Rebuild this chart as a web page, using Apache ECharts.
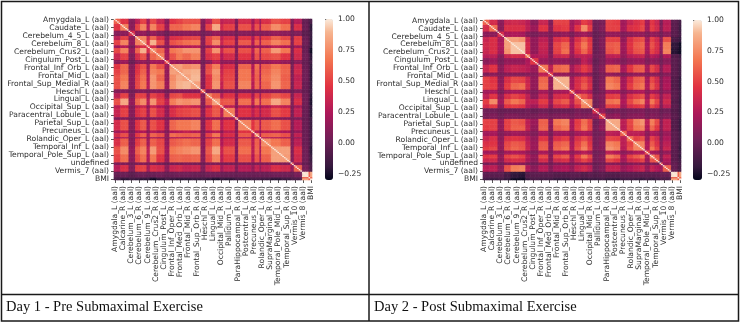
<!DOCTYPE html>
<html><head><meta charset="utf-8">
<script src="https://cdn.jsdelivr.net/npm/echarts@6/dist/echarts.min.js"></script>
<style>html,body{margin:0;padding:0;background:#fff}#c{width:740px;height:324px;filter:blur(0.5px)}</style>
</head><body><div id="c"></div>
<script>
const regions = ["Amygdala_L (aal)","Amygdala_R (aal)","Angular_L (aal)","Angular_R (aal)","Calcarine_L (aal)","Calcarine_R (aal)","Caudate_L (aal)","Caudate_R (aal)","Cerebelum_10_L (aal)","Cerebelum_10_R (aal)","Cerebelum_3_L (aal)","Cerebelum_3_R (aal)","Cerebelum_4_5_L (aal)","Cerebelum_4_5_R (aal)","Cerebelum_6_L (aal)","Cerebelum_6_R (aal)","Cerebelum_7b_L (aal)","Cerebelum_7b_R (aal)","Cerebelum_8_L (aal)","Cerebelum_8_R (aal)","Cerebelum_9_L (aal)","Cerebelum_9_R (aal)","Cerebelum_Crus1_L (aal)","Cerebelum_Crus1_R (aal)","Cerebelum_Crus2_L (aal)","Cerebelum_Crus2_R (aal)","Cingulum_Ant_L (aal)","Cingulum_Ant_R (aal)","Cingulum_Mid_L (aal)","Cingulum_Mid_R (aal)","Cingulum_Post_L (aal)","Cingulum_Post_R (aal)","Cuneus_L (aal)","Cuneus_R (aal)","Frontal_Inf_Oper_L (aal)","Frontal_Inf_Oper_R (aal)","Frontal_Inf_Orb_L (aal)","Frontal_Inf_Orb_R (aal)","Frontal_Inf_Tri_L (aal)","Frontal_Inf_Tri_R (aal)","Frontal_Med_Orb_L (aal)","Frontal_Med_Orb_R (aal)","Frontal_Mid_L (aal)","Frontal_Mid_Orb_L (aal)","Frontal_Mid_Orb_R (aal)","Frontal_Mid_R (aal)","Frontal_Sup_L (aal)","Frontal_Sup_Medial_L (aal)","Frontal_Sup_Medial_R (aal)","Frontal_Sup_Orb_L (aal)","Frontal_Sup_Orb_R (aal)","Frontal_Sup_R (aal)","Fusiform_L (aal)","Fusiform_R (aal)","Heschl_L (aal)","Heschl_R (aal)","Hippocampus_L (aal)","Hippocampus_R (aal)","Insula_L (aal)","Insula_R (aal)","Lingual_L (aal)","Lingual_R (aal)","Occipital_Inf_L (aal)","Occipital_Inf_R (aal)","Occipital_Mid_L (aal)","Occipital_Mid_R (aal)","Occipital_Sup_L (aal)","Occipital_Sup_R (aal)","Olfactory_L (aal)","Olfactory_R (aal)","Pallidum_L (aal)","Pallidum_R (aal)","Paracentral_Lobule_L (aal)","Paracentral_Lobule_R (aal)","ParaHippocampal_L (aal)","ParaHippocampal_R (aal)","Parietal_Inf_L (aal)","Parietal_Inf_R (aal)","Parietal_Sup_L (aal)","Parietal_Sup_R (aal)","Postcentral_L (aal)","Postcentral_R (aal)","Precentral_L (aal)","Precentral_R (aal)","Precuneus_L (aal)","Precuneus_R (aal)","Putamen_L (aal)","Putamen_R (aal)","Rectus_L (aal)","Rectus_R (aal)","Rolandic_Oper_L (aal)","Rolandic_Oper_R (aal)","Supp_Motor_Area_L (aal)","Supp_Motor_Area_R (aal)","SupraMarginal_L (aal)","SupraMarginal_R (aal)","Temporal_Inf_L (aal)","Temporal_Inf_R (aal)","Temporal_Mid_L (aal)","Temporal_Mid_R (aal)","Temporal_Pole_Mid_L (aal)","Temporal_Pole_Mid_R (aal)","Temporal_Pole_Sup_L (aal)","Temporal_Pole_Sup_R (aal)","Temporal_Sup_L (aal)","Temporal_Sup_R (aal)","Thalamus_L (aal)","Thalamus_R (aal)","undefined","Vermis_1_2 (aal)","Vermis_10 (aal)","Vermis_3 (aal)","Vermis_4_5 (aal)","Vermis_6 (aal)","Vermis_7 (aal)","Vermis_8 (aal)","Vermis_9 (aal)","Age","Height","Weight","BMI"];
const day1BandStarts = [0,4,9,13,16,20,22,26,31,34,38,42,47,53,56,60,65,67,74,76,84,86,89,90,96,102,108,110,115,119,120];
const day2BandStarts = [0,4,9,13,17,22,26,29,34,40,43,48,53,56,60,64,67,71,75,80,84,88,92,96,99,102,105,108,110,115,119,120];
const colorbarTicks = [-0.25,0,0.25,0.5,0.75,1];
const titles = ["Day 1 - Pre Submaximal Exercise","Day 2 - Post Submaximal Exercise"];

// Upper triangle of each correlation matrix, read per block of neighbouring regions.
const day1Upper = [
[.6,.45,.1,.3,.5,.2,.52,.35,.12,.45,.5,.55,.55,.1,.3,.55,.3,.35,.08,.4,.2,.4,.18,.42,.55,.5,.08,.28,-.02,-.1,-.12],
[.7,.12,.5,.72,.28,.72,.5,.18,.62,.62,.68,.72,.1,.5,.85,.38,.5,.1,.55,.28,.55,.25,.6,.75,.65,.08,.42,.0,-.1,-.22],
[.4,.12,.15,.05,.15,.08,.0,.1,.1,.12,.12,.02,.08,.15,.08,.1,.02,.1,.05,.12,.05,.1,.15,.12,.02,.08,-.05,-.1,-.18],
[.7,.72,.35,.62,.4,.12,.42,.45,.5,.52,.08,.5,.62,.3,.42,.1,.45,.22,.48,.2,.48,.6,.52,.08,.48,.0,-.08,-.2],
[.78,.42,.88,.55,.15,.55,.6,.65,.68,.1,.5,.75,.35,.5,.12,.58,.25,.6,.22,.6,.72,.65,.1,.5,.02,-.08,-.22],
[.55,.4,.15,.08,.18,.22,.25,.28,.05,.18,.28,.12,.2,.05,.2,.1,.22,.1,.2,.3,.25,.05,.2,-.02,-.1,-.2],
[.75,.62,.2,.68,.72,.78,.78,.1,.5,.78,.35,.55,.1,.55,.28,.62,.22,.6,.8,.68,.08,.42,.0,-.15,-.28],
[.7,.2,.55,.68,.62,.7,.1,.42,.5,.25,.4,.1,.45,.2,.55,.18,.52,.55,.45,.05,.38,.02,-.08,-.22],
[.5,.18,.15,.15,.18,.02,.12,.3,.12,.15,.02,.15,.08,.15,.08,.15,.2,.15,.0,.12,-.02,-.1,-.15],
[.78,.82,.75,.78,.08,.52,.7,.3,.42,.08,.62,.25,.65,.22,.58,.68,.6,.05,.35,.0,-.08,-.2],
[.8,.85,.88,.1,.55,.78,.35,.5,.1,.68,.28,.62,.25,.62,.72,.62,.05,.38,.02,-.08,-.22],
[.82,.9,.1,.45,.75,.38,.52,.1,.68,.32,.6,.22,.65,.75,.6,.08,.32,.02,-.08,-.22],
[.82,.1,.45,.78,.32,.55,.12,.72,.28,.62,.25,.62,.78,.62,.05,.35,.0,-.08,-.2],
[.55,.1,.1,.05,.12,.02,.1,.05,.1,.05,.12,.12,.1,.0,.08,-.02,-.1,-.18],
[.7,.58,.28,.45,.15,.45,.22,.5,.2,.5,.58,.52,.08,.35,.02,-.08,-.22],
[.82,.55,.58,.15,.65,.3,.68,.28,.65,.85,.72,.08,.42,.02,-.12,-.25],
[.6,.3,.08,.28,.12,.28,.1,.25,.35,.3,.05,.2,.0,-.1,-.2],
[.7,.2,.45,.3,.42,.2,.4,.55,.48,.05,.32,.0,-.1,-.22],
[.55,.1,.1,.12,.08,.12,.12,.1,.02,.08,-.02,-.1,-.15],
[.72,.45,.58,.25,.58,.65,.55,.08,.28,.0,-.08,-.18],
[.6,.3,.12,.3,.3,.25,.05,.15,.0,-.08,-.15],
[.72,.25,.6,.62,.55,.08,.32,.0,-.08,-.15],
[.5,.28,.25,.22,.05,.15,.02,-.08,-.15],
[.75,.68,.6,.08,.3,.0,-.08,-.18],
[.82,.82,.08,.42,.02,-.1,-.22],
[.8,.08,.38,.02,-.08,-.18],
[.5,.15,-.02,-.08,-.12],
[.6,.05,-.05,-.12],
[.98,.6,.85],
[1,.6],
[1]
];
const day2Upper = [
[.6,.4,.12,.35,.38,.35,.28,.12,.35,.08,.5,.5,.2,.3,.48,.4,.02,.05,.5,.48,.2,.35,.42,.48,.2,.45,.35,.05,.28,-.05,-.1,-.15],
[.65,.12,.42,.42,.42,.3,.18,.45,.12,.45,.48,.22,.45,.75,.48,.02,.08,.5,.5,.22,.42,.45,.52,.2,.48,.38,.08,.3,-.05,-.1,-.18],
[.4,.22,.25,.22,.1,.05,.12,.05,.12,.15,.05,.15,.2,.12,-.02,.02,.15,.15,.08,.12,.15,.15,.08,.15,.12,.02,.12,-.05,-.1,-.15],
[.82,.82,.78,.35,.15,.3,.1,.42,.48,.18,.42,.58,.45,.0,.08,.5,.5,.15,.42,.52,.55,.2,.5,.38,.12,.55,-.12,-.15,-.2],
[.92,.92,.4,.15,.35,.1,.52,.62,.22,.5,.68,.48,.0,.08,.58,.6,.2,.45,.58,.62,.25,.55,.42,.15,.7,-.2,-.22,-.28],
[.92,.38,.15,.32,.08,.5,.65,.2,.45,.62,.45,.0,.05,.55,.6,.18,.42,.55,.58,.22,.5,.4,.12,.72,-.22,-.25,-.28],
[.65,.25,.28,.1,.35,.38,.15,.3,.32,.28,.02,.05,.3,.32,.15,.28,.32,.35,.15,.28,.22,.05,.25,-.08,-.1,-.18],
[.45,.18,.1,.15,.15,.08,.12,.3,.2,-.02,.05,.18,.15,.08,.15,.18,.18,.08,.15,.12,.02,.12,-.05,-.1,-.12],
[.68,.3,.62,.65,.2,.35,.48,.38,.02,.1,.6,.62,.22,.45,.58,.6,.22,.52,.4,.08,.28,-.05,-.1,-.15],
[.5,.15,.15,.08,.12,.2,.12,-.02,.05,.15,.12,.05,.12,.15,.15,.08,.12,.1,.02,.1,-.05,-.1,-.15],
[.88,.88,.2,.4,.52,.38,.0,.08,.68,.62,.2,.42,.58,.62,.22,.52,.38,.08,.22,-.08,-.12,-.2],
[.88,.22,.42,.58,.42,.0,.1,.72,.68,.22,.48,.62,.68,.25,.58,.42,.08,.25,-.08,-.12,-.2],
[.55,.25,.3,.22,.0,.05,.22,.22,.1,.18,.22,.25,.12,.22,.18,.05,.15,-.05,-.1,-.15],
[.65,.55,.42,.05,.1,.48,.5,.2,.42,.5,.55,.2,.48,.38,.12,.32,-.05,-.1,-.18],
[.8,.72,.02,.08,.65,.68,.25,.52,.65,.72,.28,.68,.5,.1,.38,-.08,-.12,-.2],
[.7,.02,.1,.5,.5,.2,.4,.45,.5,.2,.52,.4,.08,.3,-.05,-.1,-.18],
[.4,.15,.02,.05,.02,.05,.05,.08,.02,.05,.05,-.02,.02,-.08,-.12,-.18],
[.5,.12,.15,.05,.1,.12,.12,.05,.1,.08,.02,.08,-.05,-.1,-.15],
[.85,.85,.3,.52,.72,.78,.3,.7,.52,.1,.32,-.08,-.12,-.2],
[.85,.28,.5,.68,.72,.25,.62,.45,.1,.32,-.08,-.12,-.2],
[.6,.3,.3,.28,.12,.25,.2,.05,.18,-.05,-.1,-.15],
[.65,.5,.55,.18,.5,.38,.08,.25,-.05,-.1,-.15],
[.75,.72,.25,.58,.42,.12,.3,-.05,-.1,-.18],
[.75,.25,.68,.5,.1,.35,-.05,-.12,-.2],
[.55,.22,.18,.05,.15,-.05,-.1,-.15],
[.75,.55,.08,.32,-.05,-.12,-.2],
[.6,.05,.25,-.05,-.1,-.15],
[.5,.18,-.02,-.08,-.12],
[.6,-.02,-.1,-.12],
[.98,.6,.85],
[1,.6],
[1]
];

const rocket = ['#03051a','#35193e','#521c4a','#701f57','#8e1b58','#ad1759','#c72550','#e13342','#ea5549','#f37651','#f59570','#f6b48f','#faebdd'];
const ink = '#2e2e2e';
const n = regions.length;
function cells(upper,starts){
  const bandOf=i=>{let b=0; while(b+1<starts.length && starts[b+1]<=i) b++; return b;};
  const out=[];
  for(let y=0;y<n;y++) for(let x=0;x<n;x++){
    const a=bandOf(x), b=bandOf(y), lo=Math.min(a,b), hi=Math.max(a,b);
    out.push([x,y, x===y ? 1 : upper[lo][hi-lo]]);
  }
  return out;
}
const panels=[
  {left:114,top:19,w:198,h:161,barLeft:325,barW:8,data:day1Upper,starts:day1BandStarts},
  {left:483,top:20,w:198,h:160,barLeft:693,barW:9,data:day2Upper,starts:day2BandStarts}
];
const tickStyle={show:true,length:3,lineStyle:{color:ink,width:0.8}};
const opt={animation:false,backgroundColor:'#fff',grid:[],xAxis:[],yAxis:[],series:[],visualMap:[],graphic:[]};
panels.forEach((p,k)=>{
  opt.grid.push({left:p.left,top:p.top,width:p.w,height:p.h,containLabel:false});
  opt.xAxis.push({type:'category',gridIndex:k*2,data:regions,position:'bottom',boundaryGap:true,
    axisLine:{show:false},splitLine:{show:false},
    axisTick:{...tickStyle,interval:4,alignWithLabel:true},
    axisLabel:{interval:4,rotate:90,fontSize:7.6,color:ink,margin:6,fontFamily:'DejaVu Sans',hideOverlap:false}});
  opt.yAxis.push({type:'category',gridIndex:k*2,data:regions,inverse:true,boundaryGap:true,
    axisLine:{show:false},splitLine:{show:false},
    axisTick:{...tickStyle,interval:5,alignWithLabel:true},
    axisLabel:{interval:5,fontSize:7.6,color:ink,margin:5,fontFamily:'DejaVu Sans',hideOverlap:false}});
  opt.series.push({type:'heatmap',xAxisIndex:k*2,yAxisIndex:k*2,data:cells(p.data,p.starts),progressive:0,
    itemStyle:{borderWidth:0},emphasis:{disabled:true},silent:true});
  opt.visualMap.push({type:'continuous',seriesIndex:k,dimension:2,min:-0.3,max:1,calculable:false,
    orient:'vertical',left:p.barLeft,top:p.top,itemWidth:p.barW,itemHeight:p.h,padding:0,text:null,
    inRange:{color:rocket},textStyle:{fontSize:0}});
  opt.grid.push({left:p.barLeft,top:p.top,width:p.barW,height:p.h});
  opt.xAxis.push({type:'value',gridIndex:k*2+1,show:false,min:0,max:1});
  opt.yAxis.push({type:'value',gridIndex:k*2+1,position:'right',min:-0.3,max:1,
    axisLine:{show:false},splitLine:{show:false},
    axisTick:{...tickStyle,customValues:colorbarTicks},
    axisLabel:{customValues:colorbarTicks,fontSize:7.6,color:ink,margin:5,fontFamily:'DejaVu Sans',
      formatter:v=>Number(v).toFixed(2).replace('-','\u2212')}});
});
const line={stroke:'#1a1a1a',lineWidth:1.5,fill:null};
opt.graphic=[
  {type:'rect',shape:{x:1.5,y:1.5,width:737,height:319.5},style:{...line},silent:true},
  {type:'line',shape:{x1:369,y1:1,x2:369,y2:321},style:{...line},silent:true},
  {type:'line',shape:{x1:1,y1:294.5,x2:739,y2:294.5},style:{...line},silent:true},
  {type:'text',x:6,y:300,style:{text:titles[0],font:'14.5px "Liberation Serif"',fill:'#111'},silent:true},
  {type:'text',x:374,y:300,style:{text:titles[1],font:'14.5px "Liberation Serif"',fill:'#111'},silent:true}
];
const chart=echarts.init(document.getElementById('c'),null,{renderer:'canvas'});
chart.setOption(opt);
</script></body></html>
